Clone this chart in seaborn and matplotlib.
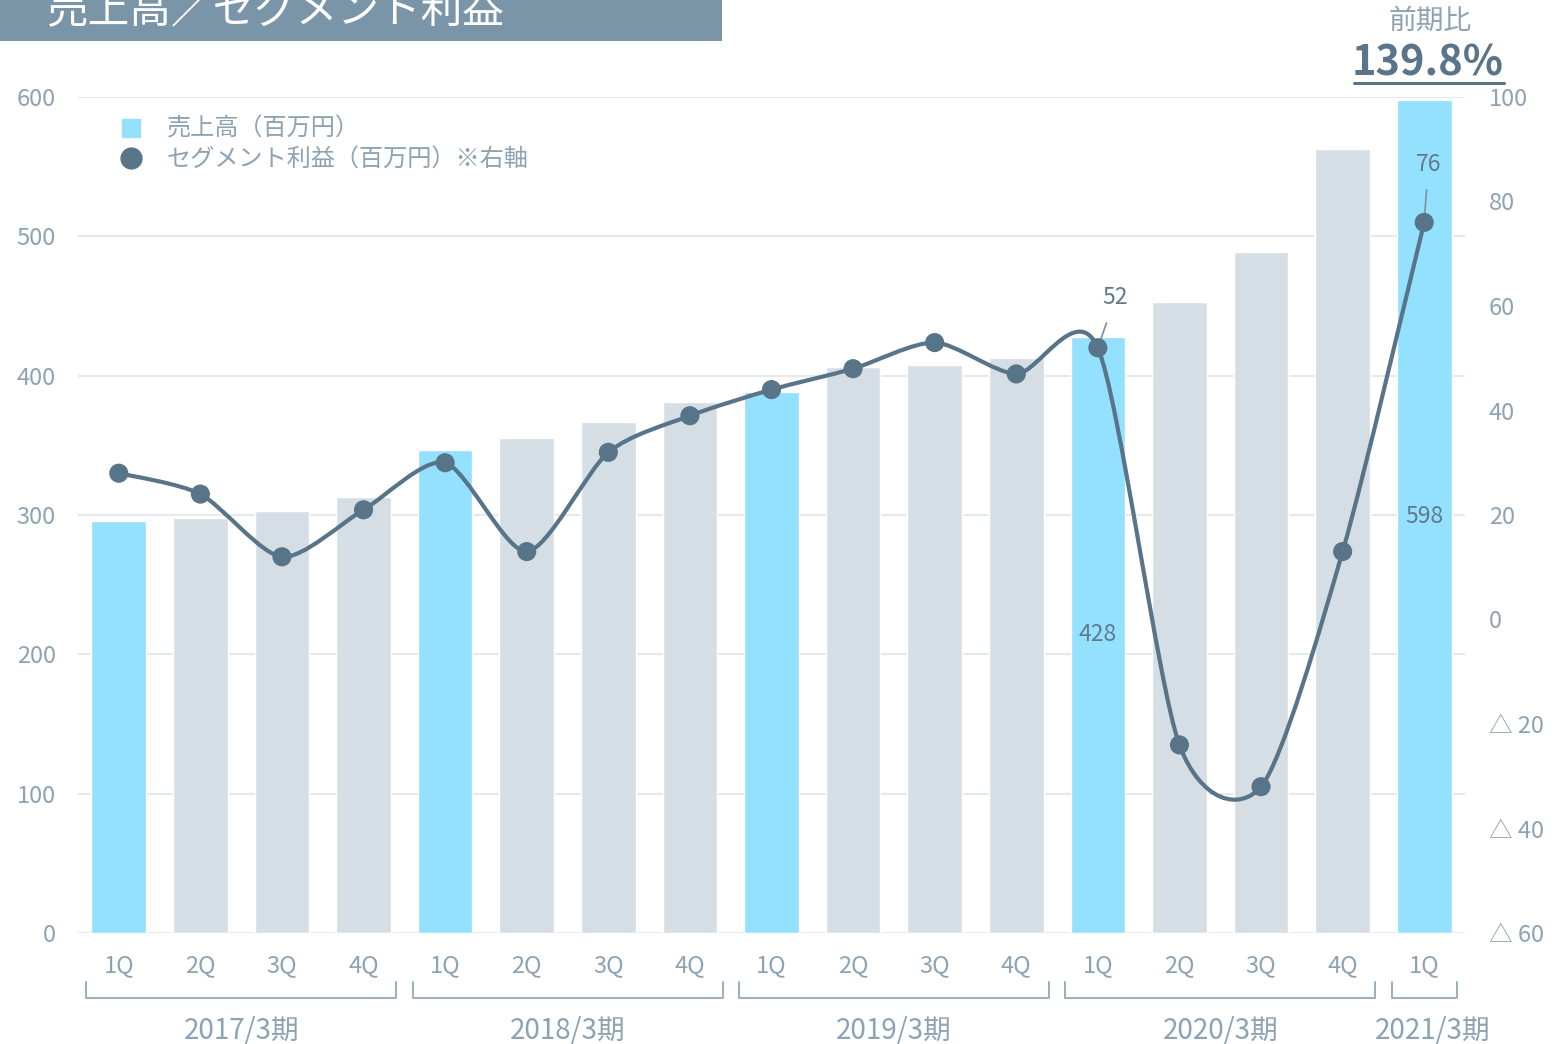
import numpy as np
import pandas as pd
import matplotlib
matplotlib.use('Agg')
import matplotlib.pyplot as plt
import seaborn as sns
from matplotlib.path import Path
from matplotlib.patches import PathPatch, Rectangle
from matplotlib.lines import Line2D

# ---- data ----
quarters = ['1Q', '2Q', '3Q', '4Q'] * 4 + ['1Q']
fiscal_years = ['2017/3期', '2018/3期', '2019/3期', '2020/3期', '2021/3期']
group_sizes = [4, 4, 4, 4, 1]
sales = [296, 298, 303, 313, 347, 355, 367, 381, 388, 406, 408, 413, 428, 453, 489, 563, 598]
profit = [28, 24, 12, 21, 30, 13, 32, 39, 44, 48, 53, 47, 52, -24, -32, 13, 76]
left_ticks = [0, 100, 200, 300, 400, 500, 600]
right_ticks = [-60, -40, -20, 0, 20, 40, 60, 80, 100]

W, H = 1556, 1044
BLUE = '#94E1FF'
GREY = '#D6DEE5'
LINE = '#587488'
TXT = '#8DA2B3'
DARK = '#5F7A8E'

sns.set_theme(style='white')
plt.rcParams['font.family'] = ['Noto Sans CJK JP', 'DejaVu Sans']

fig = plt.figure(figsize=(W / 100, H / 100), dpi=100)
ax = fig.add_axes([78 / W, 1 - 933 / H, 1387 / W, 836 / H])

n = len(sales)
df = pd.DataFrame({'pos': list(range(n)), 'sales': sales,
                   'kind': ['1Q' if q == '1Q' else 'other' for q in quarters]})
sns.barplot(data=df, x='pos', y='sales', hue='kind',
            palette={'1Q': BLUE, 'other': GREY}, dodge=False, width=0.67,
            saturation=1, legend=False, ax=ax, zorder=2)

ax.set_xlim(-0.5, n - 0.5)
ax.set_ylim(0, 600)
ax.set_yticks(left_ticks)
ax.set_yticklabels([str(t) for t in left_ticks])
ax.set_xticks(range(n))
ax.set_xticklabels(quarters)
ax.grid(axis='y', color='#E6E9EC', lw=1.5, zorder=0)
ax.grid(axis='x', visible=False)
ax.set_axisbelow(True)
ax.set_xlabel('')
ax.set_ylabel('')
ax.tick_params(axis='both', length=0, labelsize=17, labelcolor=TXT)
ax.tick_params(axis='y', pad=16)
ax.tick_params(axis='x', pad=15)
for s in ax.spines.values():
    s.set_visible(False)

# ---- right axis: segment profit ----
ax2 = ax.twinx()
ax2.set_ylim(-60, 100)
ax2.set_yticks(right_ticks)
ax2.set_yticklabels([('△ %d' % -t) if t < 0 else str(t) for t in right_ticks])
ax2.tick_params(axis='y', length=0, labelsize=17, labelcolor=TXT, pad=17)
ax2.grid(False)
for s in ax2.spines.values():
    s.set_visible(False)

# smoothed line (Bezier through the data points, Excel-style smoothing)
k = 0.13
xs = np.arange(n, dtype=float)
ys = np.array(profit, dtype=float)
P = np.column_stack([xs, ys])
verts = [P[0]]
codes = [Path.MOVETO]
for i in range(n - 1):
    p0 = P[i - 1] if i > 0 else P[i]
    p1 = P[i]
    p2 = P[i + 1]
    p3 = P[i + 2] if i + 2 < n else P[i + 1]
    c1 = p1 + (p2 - p0) * k
    c2 = p2 - (p3 - p1) * k
    verts += [c1, c2, p2]
    codes += [Path.CURVE4] * 3
ax2.add_patch(PathPatch(Path(verts, codes), facecolor='none', edgecolor=LINE,
                        lw=3.0, zorder=3, capstyle='round', joinstyle='round'))
sns.scatterplot(x=xs, y=ys, ax=ax2, s=190, color=LINE, edgecolor='none',
                zorder=4, legend=False)

# data labels
ax2.annotate('52', xy=(12, profit[12]), xytext=(12.5, 36), textcoords='offset points',
             ha='center', va='center', fontsize=16.5, color=DARK,
             arrowprops=dict(arrowstyle='-', color='#7F95A6', lw=1.3, shrinkA=8, shrinkB=2))
ax2.annotate('76', xy=(16, profit[16]), xytext=(3, 42), textcoords='offset points',
             ha='center', va='center', fontsize=16.5, color=DARK,
             arrowprops=dict(arrowstyle='-', color='#7F95A6', lw=1.3, shrinkA=8, shrinkB=5))
ax.text(12, 214, str(sales[12]), ha='center', va='center', fontsize=16.5, color=DARK, zorder=5)
ax.text(16, 299, str(sales[16]), ha='center', va='center', fontsize=16.5, color=DARK, zorder=5)

# fiscal year brackets
xtr = ax.get_xaxis_transform()
start = 0
for fy, sz in zip(fiscal_years, group_sizes):
    a, b = start - 0.4, start + sz - 1 + 0.4
    y0, y1 = -0.0586, -0.0778
    ax.add_line(Line2D([a, a, b, b], [y0, y1, y1, y0], transform=xtr,
                       color='#9AAEBD', lw=1.4, clip_on=False))
    cx = start + (sz - 1) / 2 + (0.1 if sz == 1 else 0.0)
    ax.text(cx, -0.117, fy, transform=xtr, ha='center', va='center',
            fontsize=20, color=TXT)
    start += sz

# title bar
fig.add_artist(Rectangle((0, 1 - 41 / H), 722 / W, 41 / H, transform=fig.transFigure,
                         facecolor='#7A95A8', edgecolor='none'))
fig.text(46 / W, 1 - 23 / H, '売上高／セグメント利益', color='white', fontsize=30,
         ha='left', va='baseline')

# legend
fig.add_artist(Line2D([131 / W], [1 - 128 / H], marker='s', markersize=13,
                      color=BLUE, transform=fig.transFigure, linestyle='none'))
fig.add_artist(Line2D([131 / W], [1 - 158 / H], marker='o', markersize=15,
                      color=LINE, transform=fig.transFigure, linestyle='none'))
fig.text(167 / W, 1 - 129 / H, '売上高（百万円）', fontsize=17.4, color=TXT, va='center')
fig.text(167 / W, 1 - 159 / H, 'セグメント利益（百万円）※右軸', fontsize=17.4, color=TXT, va='center')

# year-on-year
fig.text(1430 / W, 1 - 21 / H, '前期比', fontsize=20, color=TXT, ha='center', va='center')
fig.text(1428 / W, 1 - 63 / H, '139.8%', fontsize=30, color='#5A7489', fontweight='bold',
         ha='center', va='center')
fig.add_artist(Line2D([1354 / W, 1504 / W], [1 - 83 / H, 1 - 83 / H], color='#5A7489',
                      lw=2.2, transform=fig.transFigure))

fig.savefig('out.png', dpi=100)
